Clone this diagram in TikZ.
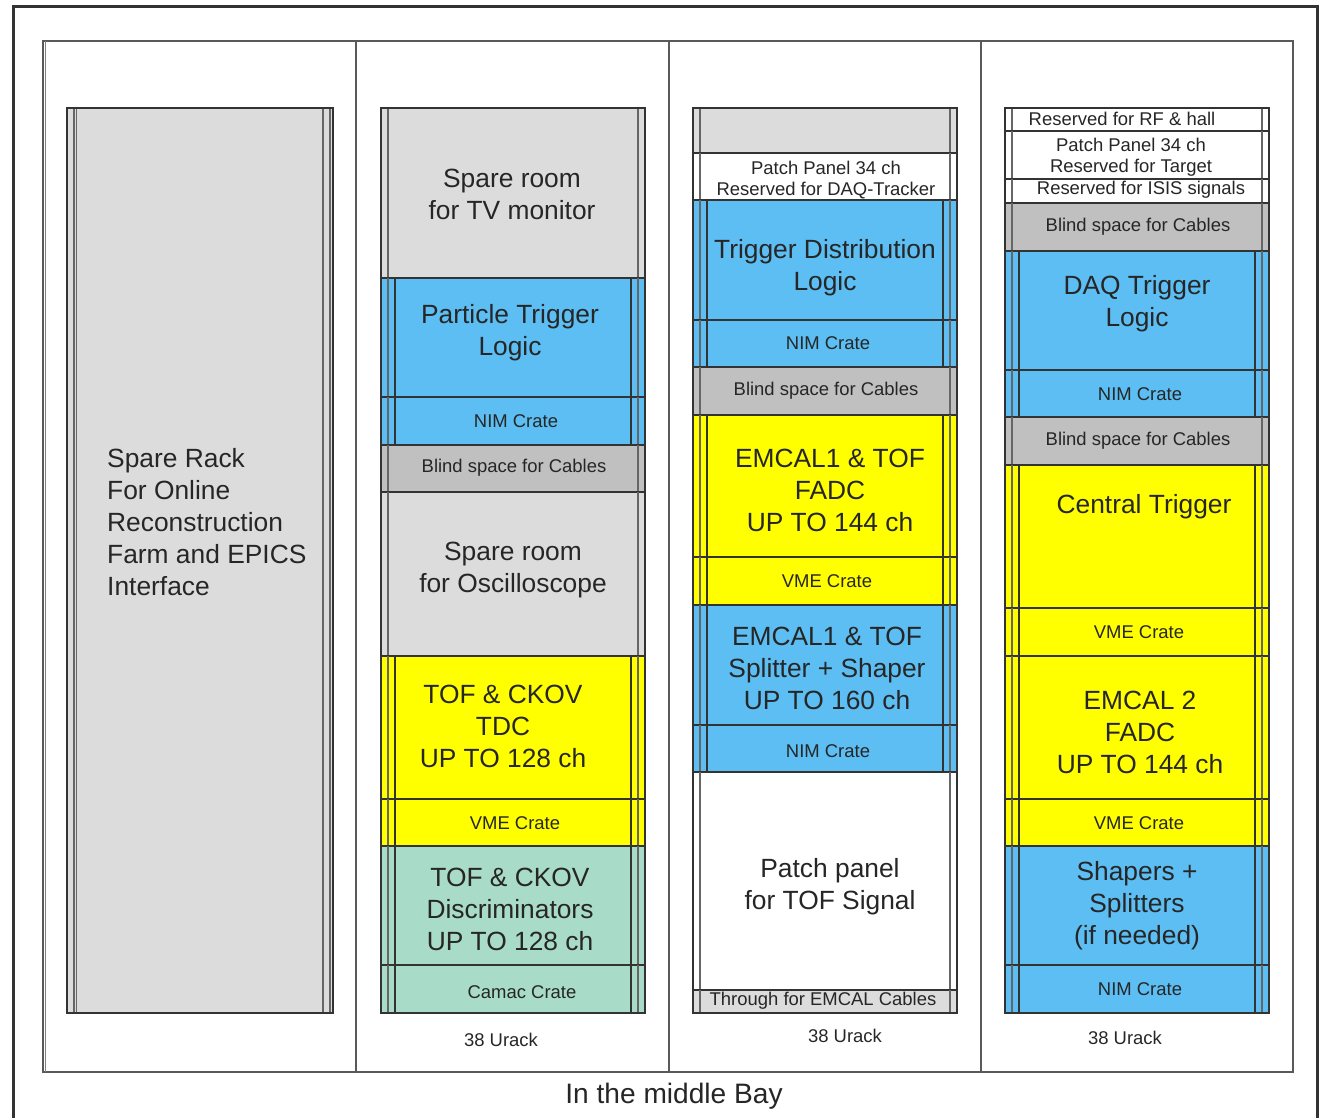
\documentclass[tikz,border=0pt]{standalone}
\usepackage{fontspec}
\setmainfont{Liberation Sans}
\usepackage{tikz}

\definecolor{sparegray}{HTML}{DCDCDC}
\definecolor{blindgray}{HTML}{C0C0C0}
\definecolor{crateblue}{HTML}{5CBEF2}
\definecolor{crateyellow}{HTML}{FFFF00}
\definecolor{crategreen}{HTML}{A8DCC8}
\definecolor{rackline}{HTML}{333333}

\newcommand{\bigtxt}{\fontsize{15}{18.2}\selectfont}
\newcommand{\smalltxt}{\fontsize{10.5}{12}\selectfont}

\tikzset{
  slot/.style={draw=rackline, line width=0.6pt},
  railthin/.style={draw=gray!80!black, line width=0.6pt},
  rail/.style={draw=rackline, line width=0.6pt},
  rackedge/.style={draw=rackline, line width=1pt},
  big/.style={font=\bigtxt, align=center, text=black!85},
  small/.style={font=\smalltxt, align=center, text=black!85},
}

\begin{document}
\begin{tikzpicture}[x=0.02cm, y=-0.02cm]
	\useasboundingbox (0,0) rectangle (1319,1118);

	% outer frame and bay
	\draw[line width=1.2pt, rackline] (13.5,1118) -- (13.5,6.5) -- (1317.5,6.5) -- (1317.5,1118);
	\draw[line width=0.8pt, gray!70!black] (43,41) rectangle (1293,1072);
	\draw[line width=0.5pt, gray] (45.5,41) -- (45.5,1072);
	\draw[line width=1.4pt, gray!70!black] (356,41) -- (356,1072);
	\draw[line width=0.6pt, gray!70!black] (669,41) -- (669,1072);
	\draw[line width=0.6pt, gray!70!black] (981,41) -- (981,1072);

	% rack 1
	\filldraw[slot, fill=sparegray] (67,108) rectangle (333,1013);
	\draw[railthin] (74,108) -- (74,1013) (76.5,108) -- (76.5,1013);
	\draw[railthin] (323,108) -- (323,1013) (330,108) -- (330,1013);
	\draw[rackedge] (67,108) rectangle (333,1013);
	\node[big, anchor=west, align=left] (sparerack) at (101,522)
		{Spare Rack\\For Online\\Reconstruction\\Farm and EPICS\\Interface};

	% rack 2
	\foreach \ya/\yb/\fillc/\crate in {108/278/sparegray/0, 278/397/crateblue/1,
		397/445/crateblue/1, 445/492/blindgray/0, 492/656/sparegray/0,
		656/799/crateyellow/1, 799/846/crateyellow/1, 846/965/crategreen/1,
		965/1013/crategreen/1} {
		\filldraw[slot, fill=\fillc] (381,\ya) rectangle (645,\yb);
		\draw[railthin] (388,\ya) -- (388,\yb) (638,\ya) -- (638,\yb);
		\ifnum\crate=1 \draw[rail] (395,\ya) -- (395,\yb) (631,\ya) -- (631,\yb); \fi
	}
	\draw[rackedge] (381,108) rectangle (645,1013);

	\node[big] (tvroom) at (512,194) {Spare room\\for TV monitor};
	\node[big] (ptrig) at (510,333) {Particle Trigger\\Logic};
	\node[small] (nimA) at (516,421) {NIM Crate};
	\node[small] (blindA) at (514,468) {Blind space for Cables};
	\node[big] (scope) at (513,570) {Spare room\\for Oscilloscope};
	\node[big] (tdc) at (503,726) {TOF \& CKOV\\TDC\\UP TO 128 ch};
	\node[small] (vmeA) at (515,823) {VME Crate};
	\node[big] (discr) at (510,909) {TOF \& CKOV\\Discriminators\\UP TO 128 ch};
	\node[small] (camac) at (522,992) {Camac Crate};
	\node[small] (urackA) at (501,1040) {38 Urack};

	% rack 3
	\foreach \ya/\yb/\fillc/\crate in {108/153/sparegray/0, 153/200/white/0,
		200/320/crateblue/1, 320/367/crateblue/1, 367/415/blindgray/0,
		415/557/crateyellow/1, 557/605/crateyellow/1, 605/725/crateblue/1,
		725/772/crateblue/1, 772/990/white/0, 990/1013/sparegray/0} {
		\filldraw[slot, fill=\fillc] (693,\ya) rectangle (957,\yb);
		\draw[railthin] (700,\ya) -- (700,\yb) (950,\ya) -- (950,\yb);
		\ifnum\crate=1 \draw[rail] (707,\ya) -- (707,\yb) (943,\ya) -- (943,\yb); \fi
	}
	\draw[rackedge] (693,108) rectangle (957,1013);

	\node[small] (patchB) at (826,180) {Patch Panel 34 ch\\Reserved for DAQ-Tracker};
	\node[big] (tdist) at (825,268) {Trigger Distribution\\Logic};
	\node[small] (nimB) at (828,343) {NIM Crate};
	\node[small] (blindB) at (826,391) {Blind space for Cables};
	\node[big] (fadcB) at (830,490) {EMCAL1 \& TOF\\FADC\\UP TO 144 ch};
	\node[small] (vmeB) at (827,581) {VME Crate};
	\node[big] (split) at (827,668) {EMCAL1 \& TOF\\Splitter + Shaper\\UP TO 160 ch};
	\node[small] (nimC) at (828,751) {NIM Crate};
	\node[big] (patchtof) at (830,887) {Patch panel\\for TOF Signal};
	\node[small] (through) at (823,1001) {Through for EMCAL Cables};
	\node[small] (urackB) at (845,1036) {38 Urack};

	% rack 4
	\foreach \ya/\yb/\fillc/\crate in {108/131/white/0, 131/179/white/0,
		179/203/white/0, 203/251/blindgray/0, 251/370/crateblue/1,
		370/417/crateblue/1, 417/465/blindgray/0, 465/608/crateyellow/1,
		608/656/crateyellow/1, 656/799/crateyellow/1, 799/846/crateyellow/1,
		846/965/crateblue/1, 965/1013/crateblue/1} {
		\filldraw[slot, fill=\fillc] (1005,\ya) rectangle (1269,\yb);
		\draw[railthin] (1012,\ya) -- (1012,\yb) (1262,\ya) -- (1262,\yb);
		\ifnum\crate=1 \draw[rail] (1019,\ya) -- (1019,\yb) (1255,\ya) -- (1255,\yb); \fi
	}
	\draw[rackedge] (1005,108) rectangle (1269,1013);

	\node[small] (rfhall) at (1122,119) {Reserved for RF \& hall};
	\node[small] (patchC) at (1131,157) {Patch Panel 34 ch\\Reserved for Target};
	\node[small] (isis) at (1141,190) {Reserved for ISIS signals};
	\node[small] (blindC) at (1138,227) {Blind space for Cables};
	\node[big] (daqtrig) at (1137,304) {DAQ Trigger\\Logic};
	\node[small] (nimD) at (1140,394) {NIM Crate};
	\node[small] (blindD) at (1138,441) {Blind space for Cables};
	\node[big] (central) at (1144,507) {Central Trigger};
	\node[small] (vmeC) at (1139,632) {VME Crate};
	\node[big] (fadcC) at (1140,732) {EMCAL 2\\FADC\\UP TO 144 ch};
	\node[small] (vmeD) at (1139,823) {VME Crate};
	\node[big] (shapers) at (1137,906) {Shapers +\\Splitters\\(if needed)};
	\node[small] (nimE) at (1140,989) {NIM Crate};
	\node[small] (urackC) at (1125,1038) {38 Urack};

	\node[big, font=\fontsize{16}{19}\selectfont] (bay) at (674,1096) {In the middle Bay};
\end{tikzpicture}
\end{document}
